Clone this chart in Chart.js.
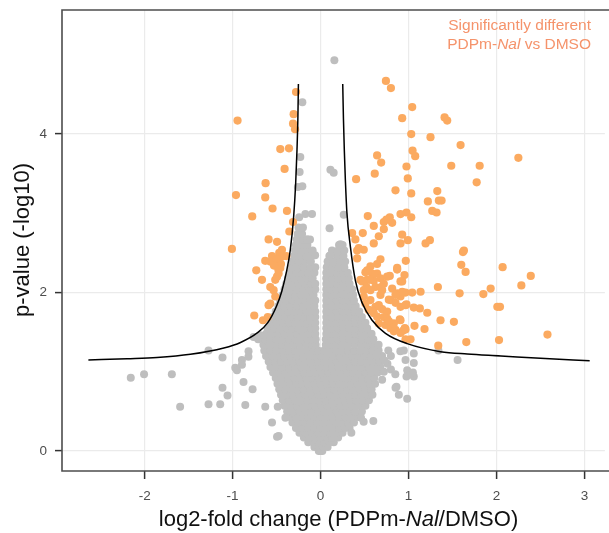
<!DOCTYPE html>
<html><head><meta charset="utf-8">
<script src="https://cdn.jsdelivr.net/npm/chart.js@4/dist/chart.umd.min.js"></script>
<style>html,body{margin:0;padding:0;background:#fff;overflow:hidden}#wrap{width:609px;height:533px;position:relative}</style>
</head><body><div id="wrap"><canvas id="c" width="609" height="533"></canvas></div>
<script>
const xTicks=[-2,-1,0,1,2,3];
const yTicks=[0,2,4];
const xTitle=[["log2-fold change (PDPm-",false],["Nal",true],["/DMSO)",false]];
const yTitle="p-value (-log10)";
const noteLine1=[["Significantly different",false]];
const noteLine2=[["PDPm-",false],["Nal",true],[" vs DMSO",false]];

// significantly different proteins (orange)
const sigPoints=[
[0.743,4.67],[0.80,4.58],[1.042,4.34],[0.928,4.20],[1.41,4.21],[1.44,4.17],[1.031,4.0],[1.25,3.96],[1.592,3.86],[1.046,3.79],[1.076,3.72],
[0.643,3.73],[0.689,3.64],[0.616,3.50],[0.404,3.43],[0.977,3.59],[1.486,3.60],[1.809,3.60],[2.249,3.70],[0.992,3.44],[1.775,3.39],
[0.852,3.29],[1.031,3.25],[1.327,3.28],[1.22,3.15],[1.345,3.16],[1.376,3.16],[1.27,3.03],[1.319,3.01],[0.909,2.99],[0.977,3.01],[1.031,2.95],
[0.928,2.73],[0.992,2.66],[0.909,2.62],[1.194,2.62],[1.243,2.66],[1.619,2.51],[1.63,2.53],[0.969,2.40],[1.60,2.35],[1.649,2.26],[2.07,2.32],
[2.39,2.21],[0.954,2.22],[0.928,2.14],[2.283,2.09],[1.334,2.07],[1.934,2.05],[1.851,1.98],[1.581,1.99],[0.966,2.0],[1.042,2.0],[1.137,2.01],
[0.909,1.95],[2.01,1.82],[2.04,1.82],[0.966,1.84],[1.06,1.81],[1.129,1.80],[1.213,1.745],[1.364,1.65],[1.516,1.63],[0.909,1.65],[1.068,1.58],
[1.182,1.54],[0.94,1.52],[0.966,1.535],[1.023,1.41],[0.966,1.41],[2.58,1.47],[1.338,1.33],[1.657,1.375],[2.029,1.40],
[0.537,2.965],[0.605,2.84],[0.719,2.89],[0.749,2.92],[0.787,2.95],[0.814,2.88],[0.719,2.80],[0.359,2.75],[0.396,2.67],[0.48,2.75],
[0.662,2.71],[0.605,2.62],[0.416,2.53],[0.491,2.54],[0.434,2.56],[0.416,2.43],[0.681,2.42],[0.643,2.36],[0.567,2.33],[0.51,2.255],[0.586,2.24],
[0.643,2.24],[0.871,2.29],[0.53,2.28],[0.787,2.21],[0.453,2.16],[0.529,2.16],[0.605,2.15],[0.681,2.18],[0.757,2.20],[0.719,2.11],[0.624,2.07],
[0.567,2.03],[0.491,2.03],[0.70,2.03],[0.814,2.05],[0.871,1.99],[0.681,1.97],[0.795,1.905],[0.852,1.87],[0.909,1.82],[0.567,1.905],[0.624,1.82],
[0.70,1.79],[0.757,1.76],[0.643,1.695],[0.719,1.69],[0.901,1.66],[0.852,1.53],[0.909,1.49],[0.958,1.55],[0.491,1.95],[0.51,1.86],[0.548,1.78],
[0.605,1.74],[0.662,1.61],[0.738,1.59],[0.795,1.55],[0.757,1.67],[0.833,1.61],[0.559,2.16],[0.472,2.14],[0.522,2.07],[0.689,2.07],[0.909,2.14],
[0.928,2.01],[0.776,1.91],[0.662,1.84],[0.852,1.97],[0.977,1.85],[0.586,1.77],[0.776,1.64],[0.833,1.51],[0.776,2.92],[0.871,2.31],
[-0.279,4.53],[-0.944,4.17],[-0.306,4.25],[-0.313,4.13],[-0.29,4.06],[-0.458,3.81],[-0.359,3.82],[-0.409,3.56],[-0.625,3.38],[-0.962,3.23],
[-0.629,3.20],[-0.546,3.06],[-0.382,3.03],[-0.777,2.96],[-0.313,2.89],[-0.355,2.77],[-0.591,2.67],[-0.495,2.64],[-1.008,2.55],[-0.439,2.54],
[-0.39,2.46],[-0.552,2.46],[-0.629,2.40],[-0.572,2.39],[-0.731,2.28],[-0.458,2.31],[-0.477,2.24],[-0.495,2.20],[-0.515,2.16],[-0.666,2.16],
[-0.572,2.07],[-0.534,2.03],[-0.515,1.95],[-0.572,1.86],[-0.591,1.84],[-0.754,1.71],[-0.655,1.65],[-0.60,1.69],[-0.47,2.50],[-0.44,2.45],
[-0.50,2.42],[-0.45,2.36],[-0.53,2.34],[-0.48,2.29]
];

// isolated non-significant proteins (grey)
const greyPoints=[
[0.157,4.93],[-0.207,4.40],[-0.23,3.71],[-0.238,3.52],[-0.207,3.34],[-0.258,3.33],[0.112,3.55],[0.149,3.51],[-0.173,2.99],[-0.097,2.99],
[-0.243,2.95],[0.263,2.98],[0.102,2.81],[-0.154,2.67],[0.226,2.61],[0.188,2.51],[0.112,2.47],[-0.062,2.47],[0.142,2.38],[-0.12,2.67],[-0.09,2.53],
[-2.158,0.925],[-2.007,0.97],[-1.691,0.97],[-1.597,0.56],[-1.274,1.27],[-1.115,1.18],[-0.97,1.05],[-0.951,1.02],[-0.894,1.15],[-0.894,1.09],
[-0.819,1.26],[-1.115,0.80],[-1.058,0.70],[-0.876,0.87],[-0.773,0.78],[-1.274,0.59],[-1.141,0.59],[-0.856,0.58],[-0.629,0.56],[-0.552,0.36],
[-0.477,0.19],[-0.495,0.18],[-0.686,1.46],[-0.762,1.44],[-0.71,1.41],[-0.82,1.19],[-0.4,0.42],[-0.487,0.56],
[0.77,1.27],[0.80,1.20],[0.76,1.10],[0.80,1.03],[0.85,0.97],[0.947,1.27],[0.985,1.02],[1.06,1.11],[1.06,1.23],[0.966,1.15],[0.977,0.94],
[1.06,0.94],[0.852,0.80],[0.89,0.71],[0.985,0.66],[0.863,0.81],[1.558,1.15],[1.34,1.27],[0.73,1.14],[0.72,1.0],[0.70,0.9],[0.6,0.38],
[0.49,0.37],[0.46,0.42],[0.35,0.23],[0.907,1.26],[1.05,0.99]
];

// dense grey cloud, read row by row: [p-value, [log2 fold changes]]
const greyRows=[
[0.00,[-0.02,0.0,0.02]],
[0.05,[-0.07,-0.02,0.03,0.08]],
[0.11,[-0.14,-0.08,-0.02,0.04,0.10,0.15]],
[0.17,[-0.19,-0.13,-0.06,0.0,0.07,0.13,0.2]],
[0.23,[-0.24,-0.17,-0.1,-0.03,0.04,0.11,0.18,0.25]],
[0.29,[-0.28,-0.21,-0.14,-0.07,0.0,0.07,0.14,0.21,0.28,0.33]],
[0.36,[-0.32,-0.25,-0.18,-0.11,-0.04,0.03,0.1,0.17,0.24,0.31,0.38]],
[0.43,[-0.35,-0.28,-0.21,-0.14,-0.07,0.0,0.07,0.14,0.21,0.28,0.35,0.43]],
[0.50,[-0.38,-0.31,-0.24,-0.17,-0.1,-0.03,0.04,0.11,0.18,0.25,0.32,0.39,0.47]],
[0.57,[-0.41,-0.34,-0.27,-0.2,-0.13,-0.06,0.01,0.08,0.15,0.22,0.29,0.36,0.43,0.51]],
[0.64,[-0.43,-0.36,-0.29,-0.22,-0.15,-0.08,-0.01,0.06,0.13,0.2,0.27,0.34,0.41,0.48,0.55]],
[0.71,[-0.45,-0.38,-0.31,-0.24,-0.17,-0.1,-0.03,0.04,0.11,0.18,0.25,0.32,0.39,0.46,0.53,0.59]],
[0.78,[-0.47,-0.4,-0.33,-0.26,-0.19,-0.12,-0.05,0.02,0.09,0.16,0.23,0.3,0.37,0.44,0.51,0.58]],
[0.85,[-0.49,-0.42,-0.35,-0.28,-0.21,-0.14,-0.07,0.0,0.07,0.14,0.21,0.28,0.35,0.42,0.49,0.56,0.62]],
[0.92,[-0.51,-0.44,-0.37,-0.3,-0.23,-0.16,-0.09,-0.02,0.05,0.12,0.19,0.26,0.33,0.4,0.47,0.54,0.61]],
[0.99,[-0.54,-0.47,-0.4,-0.33,-0.26,-0.19,-0.12,-0.05,0.02,0.09,0.16,0.23,0.3,0.37,0.44,0.51,0.58,0.65]],
[1.06,[-0.57,-0.5,-0.43,-0.36,-0.29,-0.22,-0.15,-0.08,-0.01,0.06,0.13,0.2,0.27,0.34,0.41,0.48,0.55,0.62,0.68]],
[1.13,[-0.59,-0.52,-0.45,-0.38,-0.31,-0.24,-0.17,-0.1,-0.03,0.04,0.11,0.18,0.25,0.32,0.39,0.46,0.53,0.6,0.67]],
[1.20,[-0.62,-0.55,-0.48,-0.41,-0.34,-0.27,-0.2,-0.13,-0.06,0.01,0.08,0.15,0.22,0.29,0.36,0.43,0.5,0.57,0.64,0.7]],
[1.27,[-0.64,-0.57,-0.5,-0.43,-0.36,-0.29,-0.22,-0.15,-0.08,-0.03,0.04,0.1,0.17,0.24,0.31,0.38,0.45,0.52,0.59,0.66]],
[1.34,[-0.65,-0.58,-0.51,-0.44,-0.37,-0.3,-0.23,-0.16,-0.1,-0.055,0.06,0.12,0.18,0.25,0.32,0.39,0.46,0.53,0.6,0.66]],
[1.41,[-0.64,-0.57,-0.5,-0.43,-0.36,-0.29,-0.22,-0.15,-0.1,-0.055,0.06,0.12,0.19,0.26,0.33,0.4,0.47,0.54,0.6]],
[1.48,[-0.62,-0.55,-0.48,-0.41,-0.34,-0.27,-0.2,-0.13,-0.06,0.065,0.12,0.18,0.25,0.32,0.39,0.46,0.53,0.58]],
[1.55,[-0.6,-0.53,-0.46,-0.39,-0.32,-0.25,-0.18,-0.11,-0.06,0.065,0.12,0.19,0.26,0.33,0.4,0.47,0.53]],
[1.62,[-0.57,-0.5,-0.43,-0.36,-0.29,-0.22,-0.15,-0.09,-0.06,0.065,0.11,0.18,0.25,0.32,0.39,0.46,0.51]],
[1.69,[-0.54,-0.47,-0.4,-0.33,-0.26,-0.19,-0.12,-0.06,0.065,0.12,0.19,0.26,0.33,0.4,0.47]],
[1.76,[-0.51,-0.44,-0.37,-0.3,-0.23,-0.16,-0.1,-0.06,0.065,0.11,0.18,0.25,0.32,0.39,0.44]],
[1.83,[-0.48,-0.41,-0.34,-0.27,-0.2,-0.13,-0.07,0.065,0.12,0.19,0.26,0.33,0.4]],
[1.90,[-0.46,-0.39,-0.32,-0.25,-0.18,-0.11,-0.06,0.065,0.11,0.18,0.25,0.32,0.38]],
[1.97,[-0.43,-0.36,-0.29,-0.22,-0.15,-0.08,0.065,0.12,0.19,0.26,0.33,0.37]],
[2.04,[-0.41,-0.34,-0.27,-0.2,-0.13,-0.06,0.065,0.11,0.18,0.25,0.31,0.36]],
[2.11,[-0.39,-0.32,-0.25,-0.18,-0.11,-0.06,0.065,0.12,0.19,0.26,0.33]],
[2.18,[-0.37,-0.3,-0.23,-0.16,-0.09,0.065,0.13,0.2,0.27,0.32]],
[2.25,[-0.35,-0.28,-0.21,-0.14,-0.07,0.065,0.12,0.19,0.26,0.31]],
[2.32,[-0.33,-0.26,-0.19,-0.12,-0.06,0.07,0.13,0.2,0.27]],
[2.39,[-0.32,-0.25,-0.18,-0.11,0.08,0.15,0.22,0.28]],
[2.46,[-0.3,-0.23,-0.16,-0.1,0.1,0.19,0.26]],
[2.53,[-0.29,-0.22,-0.15,0.13,0.2,0.27]],
[2.60,[-0.28,-0.21,-0.15,0.21,0.25]],
[2.67,[-0.27,-0.2,-0.15]],
[2.74,[-0.26,-0.21]],
[2.82,[-0.25,-0.2]]
];

// significance threshold curves
const curveLeft=[[-2.64,1.15],[-2.2,1.165],[-1.86,1.18],[-1.48,1.22],[-1.1,1.30],[-0.91,1.37],[-0.72,1.49],[-0.6,1.62],[-0.5,1.83],[-0.44,2.02],[-0.39,2.25],[-0.344,2.54],[-0.306,2.96],[-0.283,3.38],[-0.268,3.8],[-0.258,4.2],[-0.252,4.63]];
const curveRight=[[0.252,4.63],[0.26,4.2],[0.27,3.8],[0.282,3.42],[0.30,3.0],[0.339,2.58],[0.396,2.15],[0.472,1.87],[0.586,1.65],[0.738,1.485],[0.985,1.355],[1.364,1.254],[1.668,1.224],[2.05,1.2],[2.5,1.17],[3.06,1.14]];

const FONT='"Liberation Sans", Arial, Helvetica, sans-serif';
const toXY=a=>a.map(p=>({x:p[0],y:p[1]}));
const greyAll=[];
greyRows.forEach(r=>r[1].forEach(x=>greyAll.push({x:x,y:r[0]})));
greyPoints.forEach(p=>greyAll.push({x:p[0],y:p[1]}));

function drawRich(ctx,segs,x,y,align,size,color){
  let total=0;
  segs.forEach(s=>{ctx.font=(s[1]?'italic ':'')+size+'px '+FONT;total+=ctx.measureText(s[0]).width;});
  let start=align==='right'?x-total:align==='center'?x-total/2:x;
  ctx.fillStyle=color;ctx.textBaseline='middle';ctx.textAlign='left';
  segs.forEach(s=>{ctx.font=(s[1]?'italic ':'')+size+'px '+FONT;ctx.fillText(s[0],start,y);start+=ctx.measureText(s[0]).width;});
}

const decor={id:'decor',afterDraw(chart){
  const ctx=chart.ctx,a=chart.chartArea;
  ctx.save();
  ctx.strokeStyle='#4d4d4d';ctx.lineWidth=1.6;
  ctx.beginPath();ctx.moveTo(chart.width+2,a.top);ctx.lineTo(a.left,a.top);ctx.lineTo(a.left,a.bottom);ctx.lineTo(chart.width+2,a.bottom);ctx.stroke();
  drawRich(ctx,xTitle,338.5,520,'center',22,'#111');
  ctx.save();ctx.translate(23,240);ctx.rotate(-Math.PI/2);
  drawRich(ctx,[[yTitle,false]],0,0,'center',22,'#111');
  ctx.restore();
  drawRich(ctx,noteLine1,591,26,'right',15.5,'#F5936B');
  drawRich(ctx,noteLine2,591,45,'right',15.5,'#F5936B');
  ctx.restore();
}};

function fixBox(size,prop){return s=>{s[prop]=size;s.paddingTop=0;s.paddingBottom=0;s.paddingLeft=0;s.paddingRight=0;};}

new Chart(document.getElementById('c'),{
  type:'scatter',
  data:{datasets:[
    {type:'line',data:toXY(curveLeft),borderColor:'#000',borderWidth:1.5,pointRadius:0,fill:false,cubicInterpolationMode:'monotone',order:0},
    {type:'line',data:toXY(curveRight),borderColor:'#000',borderWidth:1.5,pointRadius:0,fill:false,cubicInterpolationMode:'monotone',order:0},
    {data:toXY(sigPoints),backgroundColor:'#FBAA60',borderWidth:0,pointRadius:4.1,order:1},
    {data:greyAll,backgroundColor:'#BEBEBE',borderWidth:0,pointRadius:4.0,order:2}
  ]},
  options:{
    responsive:false,animation:false,events:[],
    layout:{padding:{top:10,right:0,bottom:0,left:0}},
    plugins:{legend:{display:false},tooltip:{enabled:false}},
    scales:{
      x:{type:'linear',min:-2.94,max:3.233,
        afterBuildTicks:s=>{s.ticks=xTicks.map(v=>({value:v}));},
        afterFit:fixBox(62,'height'),
        grid:{color:'#EBEBEB',lineWidth:1.2,tickLength:8,tickColor:'#333',tickWidth:1.5,drawTicks:true},
        border:{display:false},
        ticks:{color:'#4D4D4D',font:{size:13.5,family:FONT},padding:9,maxRotation:0,callback:v=>String(v)}},
      y:{type:'linear',min:-0.252,max:5.565,
        afterBuildTicks:s=>{s.ticks=yTicks.map(v=>({value:v}));},
        afterFit:fixBox(62,'width'),
        grid:{color:'#EBEBEB',lineWidth:1.2,tickLength:7,tickColor:'#333',tickWidth:1.5,drawTicks:true},
        border:{display:false},
        ticks:{color:'#4D4D4D',font:{size:13.5,family:FONT},padding:8,callback:v=>String(v)}}
    }
  },
  plugins:[decor]
});
</script></body></html>
